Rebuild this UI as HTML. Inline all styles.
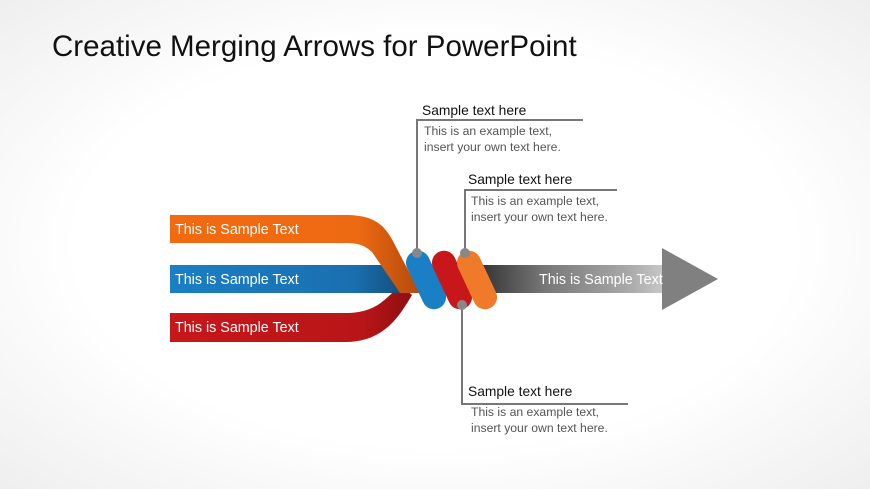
<!DOCTYPE html>
<html><head><style>
body{margin:0;width:870px;height:489px;overflow:hidden;background:#fff;}
svg{display:block;font-family:"Liberation Sans",Arial,sans-serif;}
</style></head><body>
<svg width="870" height="489" viewBox="0 0 870 489">
<defs>
<radialGradient id="bg" cx="0.5" cy="0.5" r="0.75">
<stop offset="0.55" stop-color="#ffffff"/><stop offset="1" stop-color="#ececec"/></radialGradient>
<linearGradient id="ga" x1="0" x2="1"><stop offset="0" stop-color="#333"/><stop offset="0.35" stop-color="#777"/><stop offset="0.8" stop-color="#a8a8a8"/><stop offset="1" stop-color="#c8c8c8"/></linearGradient>
<linearGradient id="gb" x1="0" x2="1"><stop offset="0" stop-color="#1a7fc4"/><stop offset="0.8" stop-color="#1a6fb0"/><stop offset="1" stop-color="#15507f"/></linearGradient>
<linearGradient id="go" x1="0" x2="1"><stop offset="0" stop-color="#f36a10"/><stop offset="0.75" stop-color="#ee6a12"/><stop offset="1" stop-color="#b34a0c"/></linearGradient>
<linearGradient id="gr" x1="0" x2="1"><stop offset="0" stop-color="#c8171a"/><stop offset="0.8" stop-color="#b81518"/><stop offset="1" stop-color="#8d0f12"/></linearGradient>
</defs>
<rect width="870" height="489" fill="url(#bg)"/>
<text x="52" y="56" font-size="29.5" fill="#111">Creative Merging Arrows for PowerPoint</text>
<rect x="480" y="265" width="184" height="28" fill="url(#ga)"/>
<polygon points="662,248 718,279 662,310" fill="#808080"/>
<path d="M170,313 L345,313 C375,313 385,300 400,285 L412,295 C400,315 385,342 345,342 L170,342 Z" fill="url(#gr)"/>
<rect x="170" y="265" width="230" height="28" fill="url(#gb)"/>
<path d="M170,215 L345,215 C375,215 385,225 395,245 L420,293 L400,293 L372,252 C362,243 355,243 340,243 L170,243 Z" fill="url(#go)"/>
<g transform="translate(426,280) rotate(-25)"><rect x="-12" y="-31" width="24" height="62" rx="12" fill="#1a7fc4"/></g>
<g transform="translate(452,280) rotate(-25)"><rect x="-12" y="-31" width="24" height="62" rx="12" fill="#c8171a"/></g>
<g transform="translate(477,280) rotate(-25)"><rect x="-12" y="-31" width="24" height="62" rx="12" fill="#ee7a2a"/></g>
<g font-size="14.3" fill="#fff">
<text x="175" y="234">This is Sample Text</text>
<text x="175" y="284">This is Sample Text</text>
<text x="175" y="332">This is Sample Text</text>
<text x="539" y="284">This is Sample Text</text>
</g>
<g stroke="#777" stroke-width="2" fill="none">
<polyline points="417,253 417,120 583,120"/>
<polyline points="465,253 465,190 617,190"/>
<polyline points="462,305 462,404 628,404"/>
</g>
<g fill="#888"><circle cx="417" cy="253" r="5"/><circle cx="465" cy="253" r="5"/><circle cx="462" cy="305" r="5"/></g>
<g font-size="13.8" fill="#111">
<text x="422" y="115">Sample text here</text>
<text x="468" y="184">Sample text here</text>
<text x="468" y="396">Sample text here</text>
</g>
<g font-size="12.2" fill="#555">
<text x="424" y="135">This is an example text,</text>
<text x="424" y="151">insert your own text here.</text>
<text x="471" y="205">This is an example text,</text>
<text x="471" y="221">insert your own text here.</text>
<text x="471" y="416">This is an example text,</text>
<text x="471" y="432">insert your own text here.</text>
</g>
</svg>
</body></html>
